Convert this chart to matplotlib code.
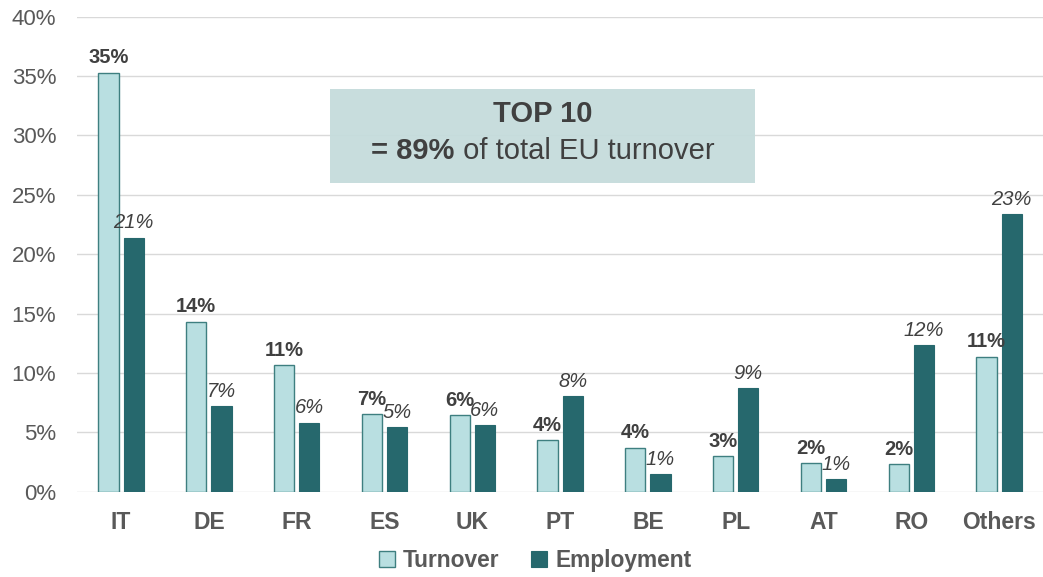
import matplotlib
matplotlib.use("Agg")
import matplotlib.pyplot as plt
from matplotlib.patches import Rectangle
import numpy as np

categories = ["IT", "DE", "FR", "ES", "UK", "PT", "BE", "PL", "AT", "RO", "Others"]
turnover = [35.3, 14.3, 10.65, 6.55, 6.43, 4.32, 3.7, 2.97, 2.41, 2.32, 11.38]
employment = [21.4, 7.2, 5.8, 5.45, 5.62, 8.04, 1.45, 8.74, 1.03, 12.35, 23.35]
yticks = [0, 5, 10, 15, 20, 25, 30, 35, 40]

plt.rcParams['font.family'] = ['Liberation Sans', 'DejaVu Sans']

c_turn = "#b9dfe1"
c_turn_edge = "#3e7f80"
c_emp = "#26686d"
grey = "#595959"
dark = "#404040"

fig = plt.figure(figsize=(10.43, 5.77), dpi=100)
ax = fig.add_axes([0.074, 0.148, 0.926, 0.823])

x = np.arange(len(categories))
w = 0.23
gap = 0.057
off = (w + gap) / 2
b1 = ax.bar(x - off, turnover, w, color=c_turn, edgecolor=c_turn_edge, linewidth=1.0, zorder=3, label="Turnover")
b2 = ax.bar(x + off, employment, w, color=c_emp, edgecolor=c_emp, linewidth=0.8, zorder=3, label="Employment")

for xi, v in zip(x, turnover):
    ax.text(xi - off, v + 0.45, f"{v:.0f}%", ha="center", va="bottom", fontsize=14.5,
            fontweight="bold", color=dark, zorder=5)
for xi, v in zip(x, employment):
    ax.text(xi + off, v + 0.45, f"{v:.0f}%", ha="center", va="bottom", fontsize=14.5,
            fontstyle="italic", color=dark, zorder=5)

ax.set_xlim(-0.5, len(categories) - 0.5)
ax.set_ylim(0, 40)
ax.set_yticks(yticks)
ax.set_yticklabels([f"{t}%" for t in yticks], fontsize=16, color=grey)
ax.set_xticks(x)
ax.set_xticklabels(categories, fontsize=16.5, fontweight="bold", color=grey)
ax.tick_params(axis="both", length=0)
ax.tick_params(axis="y", pad=15)
ax.tick_params(axis="x", pad=14)
ax.grid(axis="y", color="#d9d9d9", linewidth=1.0, zorder=0)
for s in ax.spines.values():
    s.set_visible(False)

# annotation box
rect = Rectangle((0.262, 0.650), 0.44, 0.198, transform=ax.transAxes,
                 facecolor="#c5dcdc", edgecolor="none", alpha=0.95, zorder=4)
ax.add_patch(rect)
ax.text(0.482, 0.795, "TOP 10", transform=ax.transAxes, ha="center", va="center",
        fontsize=21, fontweight="bold", color=dark, zorder=6)
t1 = ax.text(0.391, 0.718, "= 89%", transform=ax.transAxes, ha="right", va="center",
             fontsize=21, fontweight="bold", color=dark, zorder=6)
ax.annotate(" of total EU turnover", xy=(1, 0), xycoords=t1, ha="left", va="bottom",
            fontsize=21, color=dark, zorder=6)

leg = fig.legend(handles=[b1, b2], labels=["Turnover", "Employment"], loc="center",
                 bbox_to_anchor=(0.513, 0.029), ncol=2, frameon=False, fontsize=16.4,
                 handlelength=0.7, handleheight=0.7, handletextpad=0.35, columnspacing=1.4)
for t in leg.get_texts():
    t.set_fontweight("bold")
    t.set_color(grey)

fig.savefig("out.png", dpi=100)
